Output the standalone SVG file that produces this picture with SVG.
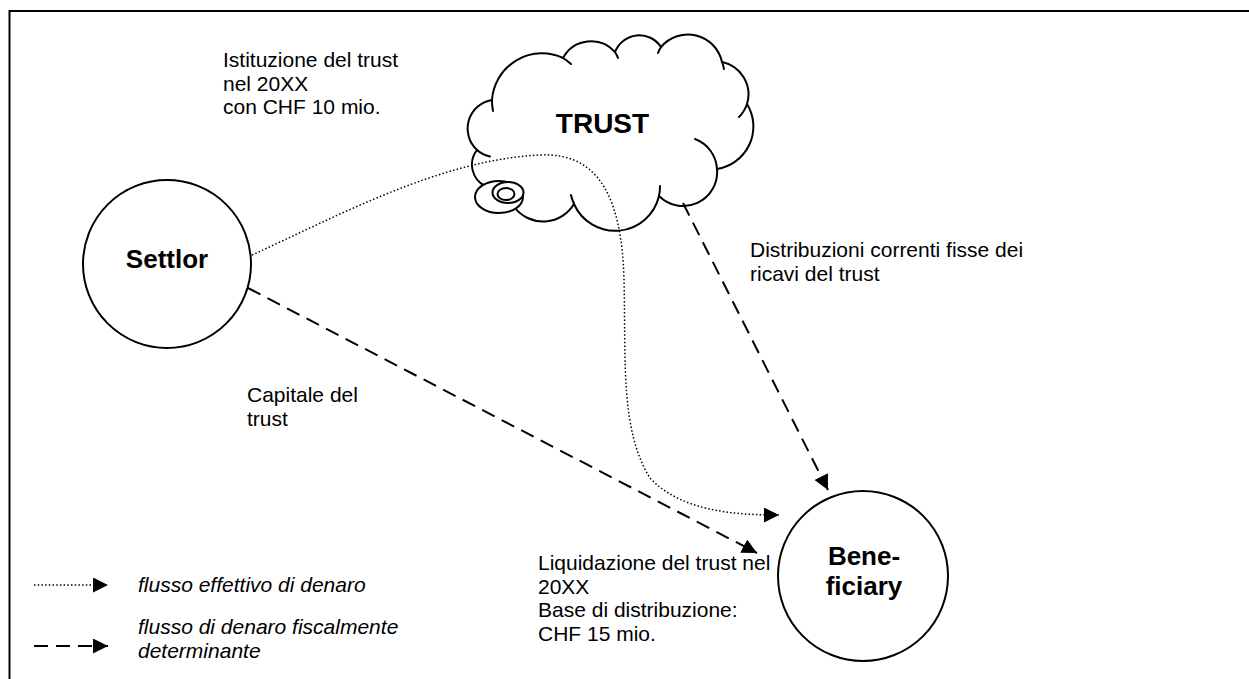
<svg xmlns="http://www.w3.org/2000/svg" width="1249" height="679" viewBox="0 0 1249 679">
  <style>
    .txt { font-family: "Liberation Sans", Arial, sans-serif; font-size: 21px; fill: #000; }
    .it { font-style: italic; }
    .bold { font-weight: bold; font-size: 26px; }
    .title { font-weight: bold; font-size: 28px; }
    .node { fill: #fff; stroke: #000; stroke-width: 2; }
    .hook { fill: none; stroke: #000; stroke-width: 2; stroke-linecap: round; }
    .dash { fill: none; stroke: #000; stroke-width: 2; stroke-dasharray: 14 8; }
    .dot { fill: none; stroke: #000; stroke-width: 1.5; stroke-dasharray: 1.5 2.2; }
  </style>
  <defs>
    <marker id="arrow" markerUnits="userSpaceOnUse" markerWidth="16" markerHeight="16" refX="15" refY="7.5" orient="auto">
      <path d="M0,0 L15,7.5 L0,15 Z" fill="#000"/>
    </marker>
  </defs>

  <rect width="1249" height="679" fill="#fff"/>

  <!-- page frame (top and left rules only) -->
  <path d="M9.5,679 L9.5,11 L1249,11" fill="none" stroke="#000" stroke-width="2"/>

  <!-- trust cloud -->
  <g id="trust">
    <path class="node" d="M492,100 A50,50 0 0 1 563,58 A32,32 0 0 1 615,52 A26,26 0 0 1 661,47 A35,35 0 0 1 722,62 A33,33 0 0 1 747,104 A43,43 0 0 1 717,169 A34,34 0 0 1 659,196 A45,45 0 0 1 574,204 A36,36 0 0 1 515,208 L485,186 A24,24 0 0 1 477,150 A29,29 0 0 1 492,100 Z"/>
    <path class="hook" d="M493,111 A50,50 0 0 1 492,100"/>
    <path class="hook" d="M563,58 A50,50 0 0 1 571,64"/>
    <path class="hook" d="M615,52 A32,32 0 0 1 618,58"/>
    <path class="hook" d="M658,53 A35,35 0 0 1 661,47"/>
    <path class="hook" d="M722,62 A35,35 0 0 1 724,69"/>
    <path class="hook" d="M747,104 A33,33 0 0 1 739,117"/>
    <path class="hook" d="M695,139 A34,34 0 0 1 717,169"/>
    <path class="hook" d="M660,186 A45,45 0 0 1 659,196"/>
    <path class="hook" d="M574,204 A45,45 0 0 1 571,195"/>
    <path class="hook" d="M490,156.5 A29,29 0 0 1 477,150"/>
    <ellipse class="node" cx="499" cy="197" rx="24" ry="16"/>
    <ellipse class="node" cx="508" cy="192.5" rx="15.5" ry="10.5"/>
    <ellipse class="node" cx="506" cy="194" rx="8.5" ry="6"/>
    <text class="txt title" x="602.5" y="133" text-anchor="middle">TRUST</text>
  </g>

  <!-- settlor -->
  <g id="settlor">
    <circle class="node" cx="167" cy="264" r="84"/>
    <text class="txt bold" x="167" y="268" text-anchor="middle">Settlor</text>
  </g>

  <!-- beneficiary -->
  <g id="beneficiary">
    <circle class="node" cx="863" cy="576" r="85"/>
    <text class="txt bold" x="864" y="565" text-anchor="middle">Bene-</text>
    <text class="txt bold" x="864" y="595" text-anchor="middle">ficiary</text>
  </g>

  <!-- money flows -->
  <g id="connectors">
    <path class="dot" d="M252,255 C340,215 440,160 540,155 C600,152 622,200 624,280 C626,360 620,430 650,478 C680,510 730,515 779,515" marker-end="url(#arrow)"/>
    <path class="dash" d="M248,288 L757,553" marker-end="url(#arrow)"/>
    <path class="dash" d="M683,203 L828,490" marker-end="url(#arrow)"/>
  </g>

  <!-- labels -->
  <g id="labels">
    <text class="txt" x="223" y="67">Istituzione del trust</text>
    <text class="txt" x="223" y="90.5">nel 20XX</text>
    <text class="txt" x="223" y="114">con CHF 10 mio.</text>
    <text class="txt" x="750" y="257">Distribuzioni correnti fisse dei</text>
    <text class="txt" x="750" y="280.5">ricavi del trust</text>
    <text class="txt" x="247" y="402">Capitale del</text>
    <text class="txt" x="247" y="425.5">trust</text>
    <text class="txt" x="538" y="570">Liquidazione del trust nel</text>
    <text class="txt" x="538" y="593.5">20XX</text>
    <text class="txt" x="538" y="617">Base di distribuzione:</text>
    <text class="txt" x="538" y="640.5">CHF 15 mio.</text>
  </g>

  <!-- legend -->
  <g id="legend">
    <path class="dot" d="M34,585 L108,585" marker-end="url(#arrow)"/>
    <text class="txt it" x="138" y="592">flusso effettivo di denaro</text>
    <path class="dash" d="M34,646 L108,646" marker-end="url(#arrow)"/>
    <text class="txt it" x="138" y="634">flusso di denaro fiscalmente</text>
    <text class="txt it" x="138" y="658">determinante</text>
  </g>
</svg>
